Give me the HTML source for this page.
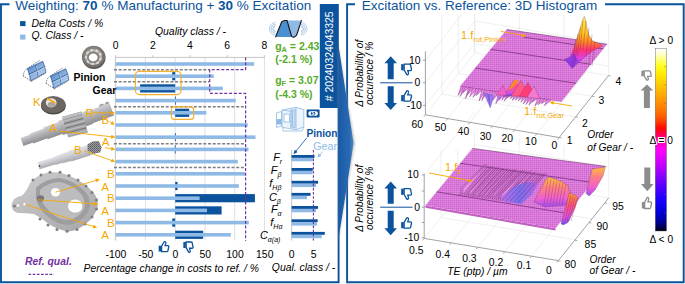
<!DOCTYPE html>
<html><head><meta charset="utf-8"><style>
html,body{margin:0;padding:0;background:#fff;}
body{width:685px;height:284px;overflow:hidden;}
svg{display:block;}
text{font-family:"Liberation Sans",sans-serif;}
</style></head><body>
<svg width="685" height="284" viewBox="0 0 685 284">
<path d="M9.5,4.3 H1 V282.2 H338.6 V106" fill="none" stroke="#0b539d" stroke-width="1.9"/>
<rect x="319.8" y="4.0" width="19" height="104.0" fill="#0b539d" />
<text transform="translate(333.4,101.3) rotate(-90)" font-size="10.45" fill="#fff">#&#160;20240324043325</text>
<path d="M355,4.3 H347.1 V282.2 H683.7 V4.3 H605" fill="none" stroke="#0b539d" stroke-width="1.9"/>
<defs><linearGradient id="chev" x1="0" y1="0" x2="1" y2="0"><stop offset="0" stop-color="#1a5aa6"/><stop offset="0.75" stop-color="#2a6ab2"/><stop offset="1" stop-color="#5a8cc6"/></linearGradient></defs>
<defs><filter id="shb" x="-0.5" y="-0.1" width="2" height="1.2"><feGaussianBlur stdDeviation="0.9"/></filter></defs>
<path d="M338.2,43.5 Q346.5,95 355,143 Q346.5,192 338.2,241 Z" fill="#9a9a9a" opacity="0.55" filter="url(#shb)"/>
<path d="M338.2,43.5 Q346,95 353.6,143 Q346,192 338.2,241 Z" fill="url(#chev)"/>
<text x="15.3" y="10.2" font-size="13.5" fill="#0b539d">Weighting: <tspan font-weight="bold">70</tspan> % Manufacturing + <tspan font-weight="bold">30</tspan> % Excitation</text>
<text x="361.7" y="10.2" font-size="13.5" fill="#0b539d">Excitation vs. Reference: 3D Histogram</text>
<rect x="20.1" y="21.1" width="5.4" height="5" fill="#0b539d" />
<rect x="20.1" y="34.6" width="5.4" height="5" fill="#8ebae5" />
<text x="31.6" y="27.4" font-size="10.4" fill="#000" text-anchor="start" font-weight="normal" font-style="italic" >Delta Costs / %</text>
<text x="31.6" y="39.2" font-size="10.4" fill="#000" text-anchor="start" font-weight="normal" font-style="italic" >Q. Class / -</text>
<line x1="145.45" y1="57" x2="145.45" y2="240.6" stroke="#dcdcdc" stroke-width="0.9" />
<line x1="175.2" y1="57" x2="175.2" y2="240.6" stroke="#dcdcdc" stroke-width="0.9" />
<line x1="204.95" y1="57" x2="204.95" y2="240.6" stroke="#dcdcdc" stroke-width="0.9" />
<line x1="234.7" y1="57" x2="234.7" y2="240.6" stroke="#dcdcdc" stroke-width="0.9" />
<line x1="264.45" y1="57" x2="264.45" y2="240.6" stroke="#dcdcdc" stroke-width="0.9" />
<line x1="115.4" y1="57.4" x2="265" y2="57.4" stroke="#c0c0c0" stroke-width="0.9" />
<line x1="115.4" y1="57.4" x2="115.4" y2="240.6" stroke="#c0c0c0" stroke-width="0.9" />
<line x1="115.6" y1="55.2" x2="115.6" y2="57.4" stroke="#c0c0c0" stroke-width="0.9" />
<text x="115.6" y="49.2" font-size="10.4" fill="#000" text-anchor="middle" font-weight="normal" font-style="normal" >0</text>
<line x1="152.8" y1="55.2" x2="152.8" y2="57.4" stroke="#c0c0c0" stroke-width="0.9" />
<text x="152.8" y="49.2" font-size="10.4" fill="#000" text-anchor="middle" font-weight="normal" font-style="normal" >2</text>
<line x1="190.0" y1="55.2" x2="190.0" y2="57.4" stroke="#c0c0c0" stroke-width="0.9" />
<text x="190.0" y="49.2" font-size="10.4" fill="#000" text-anchor="middle" font-weight="normal" font-style="normal" >4</text>
<line x1="227.2" y1="55.2" x2="227.2" y2="57.4" stroke="#c0c0c0" stroke-width="0.9" />
<text x="227.2" y="49.2" font-size="10.4" fill="#000" text-anchor="middle" font-weight="normal" font-style="normal" >6</text>
<line x1="264.4" y1="55.2" x2="264.4" y2="57.4" stroke="#c0c0c0" stroke-width="0.9" />
<text x="264.4" y="49.2" font-size="10.4" fill="#000" text-anchor="middle" font-weight="normal" font-style="normal" >8</text>
<text x="155" y="35.3" font-size="10.4" fill="#000" text-anchor="start" font-weight="normal" font-style="italic" >Quality class / -</text>
<text x="115.99999999999999" y="257.6" font-size="10.4" fill="#000" text-anchor="middle" font-weight="normal" font-style="normal" >-100</text>
<text x="145.75" y="257.6" font-size="10.4" fill="#000" text-anchor="middle" font-weight="normal" font-style="normal" >-50</text>
<text x="175.5" y="257.6" font-size="10.4" fill="#000" text-anchor="middle" font-weight="normal" font-style="normal" >0</text>
<text x="205.25" y="257.6" font-size="10.4" fill="#000" text-anchor="middle" font-weight="normal" font-style="normal" >50</text>
<text x="235.0" y="257.6" font-size="10.4" fill="#000" text-anchor="middle" font-weight="normal" font-style="normal" >100</text>
<text x="264.75" y="257.6" font-size="10.4" fill="#000" text-anchor="middle" font-weight="normal" font-style="normal" >150</text>
<text x="83.5" y="271.6" font-size="10.4" fill="#000" text-anchor="start" font-weight="normal" font-style="italic" >Percentage change in costs to ref. / %</text>
<line x1="114" y1="69.7" x2="209.7" y2="69.7" stroke="#7f7f7f" stroke-width="1.4" stroke-dasharray="3,1.7"/>
<line x1="114" y1="81.7" x2="209.7" y2="81.7" stroke="#7f7f7f" stroke-width="1.4" stroke-dasharray="3,1.7"/>
<line x1="114" y1="106.8" x2="245.6" y2="106.8" stroke="#7f7f7f" stroke-width="1.4" stroke-dasharray="3,1.7"/>
<line x1="114" y1="143.8" x2="245.6" y2="143.8" stroke="#7f7f7f" stroke-width="1.4" stroke-dasharray="3,1.7"/>
<line x1="114" y1="167.5" x2="245.6" y2="167.5" stroke="#7f7f7f" stroke-width="1.4" stroke-dasharray="3,1.7"/>
<rect x="172.22" y="72.1" width="2.97" height="8.2" fill="#0b539d" />
<rect x="140.09" y="84.3" width="35.1" height="8.2" fill="#0b539d" />
<rect x="175.2" y="96.5" width="0.8" height="8.2" fill="#0b539d" />
<rect x="175.2" y="108.7" width="13.98" height="8.2" fill="#0b539d" />
<rect x="174.96" y="133.1" width="0.8" height="8.2" fill="#0b539d" />
<rect x="174.84" y="145.3" width="0.8" height="8.2" fill="#0b539d" />
<rect x="175.2" y="181.9" width="2.38" height="8.2" fill="#0b539d" />
<rect x="175.2" y="194.1" width="79.73" height="8.2" fill="#0b539d" />
<rect x="175.2" y="206.3" width="46.41" height="8.2" fill="#0b539d" />
<rect x="172.22" y="218.5" width="2.97" height="8.2" fill="#0b539d" />
<rect x="175.2" y="230.7" width="27.97" height="8.2" fill="#0b539d" />
<rect x="115.6" y="62.2" width="138.4" height="3.6" fill="#8ebae5" />
<rect x="115.6" y="74.4" width="98.1" height="3.6" fill="#8ebae5" />
<rect x="115.6" y="86.6" width="107.2" height="3.6" fill="#8ebae5" />
<rect x="115.6" y="98.8" width="120.2" height="3.6" fill="#8ebae5" />
<rect x="115.6" y="111.0" width="90.7" height="3.6" fill="#8ebae5" />
<rect x="115.6" y="123.2" width="132.1" height="3.6" fill="#8ebae5" />
<rect x="115.6" y="135.4" width="139.9" height="3.6" fill="#8ebae5" />
<rect x="115.6" y="147.6" width="132.9" height="3.6" fill="#8ebae5" />
<rect x="115.6" y="159.8" width="122.2" height="3.6" fill="#8ebae5" />
<rect x="115.6" y="172.0" width="129.4" height="3.6" fill="#8ebae5" />
<rect x="115.6" y="184.2" width="123.3" height="3.6" fill="#8ebae5" />
<rect x="115.6" y="196.4" width="84.0" height="3.6" fill="#8ebae5" />
<rect x="115.6" y="208.6" width="91.4" height="3.6" fill="#8ebae5" />
<rect x="115.6" y="220.8" width="133.2" height="3.6" fill="#8ebae5" />
<rect x="115.6" y="233.0" width="115.2" height="3.6" fill="#8ebae5" />
<path d="M245.6,57.4 V69.7 H209.7 V93.3 H245.6 V240.7" fill="none" stroke="#7030a0" stroke-width="1.2" stroke-dasharray="3,1.8"/>
<rect x="135.4" y="71.3" width="45.6" height="23.3" rx="4" fill="none" stroke="#f5b02e" stroke-width="1.15"/>
<rect x="171.3" y="106.8" width="22.4" height="12.6" rx="3" fill="none" stroke="#f5b02e" stroke-width="1.15"/>
<line x1="291.6" y1="150" x2="291.6" y2="240.6" stroke="#c0c0c0" stroke-width="0.9" />
<rect x="291.6" y="155" width="22.9" height="2.9" fill="#0b539d" />
<rect x="291.6" y="157.9" width="21.2" height="3.4" fill="#8ebae5" />
<rect x="291.6" y="168" width="21.2" height="2.9" fill="#0b539d" />
<rect x="291.6" y="170.9" width="20.8" height="3.4" fill="#8ebae5" />
<rect x="291.6" y="180.8" width="26.4" height="2.9" fill="#0b539d" />
<rect x="291.6" y="183.70000000000002" width="24.4" height="3.4" fill="#8ebae5" />
<rect x="291.6" y="192.9" width="19.0" height="2.9" fill="#0b539d" />
<rect x="291.6" y="195.8" width="15.4" height="3.4" fill="#8ebae5" />
<rect x="291.6" y="206" width="26.4" height="2.9" fill="#0b539d" />
<rect x="291.6" y="208.9" width="24.4" height="3.4" fill="#8ebae5" />
<rect x="291.6" y="219.3" width="26.1" height="2.9" fill="#0b539d" />
<rect x="291.6" y="222.20000000000002" width="25.4" height="3.4" fill="#8ebae5" />
<rect x="291.6" y="231.9" width="33.2" height="2.9" fill="#0b539d" />
<rect x="291.6" y="234.8" width="30.1" height="3.4" fill="#8ebae5" />
<line x1="313.4" y1="150" x2="313.4" y2="240.5" stroke="#7030a0" stroke-width="1.1" stroke-dasharray="2.6,1.6"/>
<text x="291.6" y="257.6" font-size="10.4" fill="#000" text-anchor="middle" font-weight="normal" font-style="normal" >0</text>
<text x="313.6" y="257.6" font-size="10.4" fill="#000" text-anchor="middle" font-weight="normal" font-style="normal" >5</text>
<text x="271.8" y="271.2" font-size="10.4" fill="#000" text-anchor="start" font-weight="normal" font-style="italic" >Qual. class / -</text>
<text x="282.2" y="161.2" font-size="10.9" font-style="italic" text-anchor="end">F<tspan font-size="7.0" dy="3.1">r</tspan></text>
<text x="281.4" y="174.0" font-size="10.9" font-style="italic" text-anchor="end">F<tspan font-size="7.0" dy="3.1">β</tspan></text>
<text x="281.4" y="186.8" font-size="10.9" font-style="italic" text-anchor="end">f<tspan font-size="7.0" dy="3.1">Hβ</tspan></text>
<text x="280.8" y="200.8" font-size="10.9" font-style="italic" text-anchor="end">C<tspan font-size="7.0" dy="3.1">β</tspan></text>
<text x="281.6" y="213.2" font-size="10.9" font-style="italic" text-anchor="end">F<tspan font-size="7.0" dy="3.1">α</tspan></text>
<text x="282.4" y="226.2" font-size="10.9" font-style="italic" text-anchor="end">f<tspan font-size="7.0" dy="3.1">Hα</tspan></text>
<text x="280.4" y="238.6" font-size="10.9" font-style="italic" text-anchor="end">C<tspan font-size="7.0" dy="3.1">α(a)</tspan></text>
<text x="306.4" y="136.6" font-size="10.2" fill="#0b539d" text-anchor="start" font-weight="bold" font-style="normal" >Pinion</text>
<text x="313.3" y="150.4" font-size="10.7" fill="#8ebae5" text-anchor="start" font-weight="normal" font-style="normal" >Gear</text>
<defs><marker id="ahb" viewBox="0 0 10 10" refX="8" refY="5" markerWidth="5" markerHeight="5" orient="auto"><path d="M0,0 L10,5 L0,10 z" fill="#0b539d"/></marker><marker id="ahl" viewBox="0 0 10 10" refX="8" refY="5" markerWidth="5" markerHeight="5" orient="auto"><path d="M0,0 L10,5 L0,10 z" fill="#8ebae5"/></marker><marker id="aho" viewBox="0 0 10 10" refX="8" refY="5" markerWidth="4.5" markerHeight="4.5" orient="auto"><path d="M0,0 L10,5 L0,10 z" fill="#f6a800"/></marker></defs>
<line x1="306.8" y1="137.8" x2="294.2" y2="153.4" stroke="#0b539d" stroke-width="0.8" marker-end="url(#ahb)"/>
<line x1="323" y1="151.4" x2="318" y2="156.8" stroke="#8ebae5" stroke-width="0.8" marker-end="url(#ahl)"/>
<text x="275.2" y="50.2" font-size="10.5" font-weight="bold" fill="#57ab27">g<tspan font-size="7.4" dy="2">A</tspan><tspan dy="-2"> = 2.43</tspan></text>
<text x="275.2" y="62.8" font-size="10.5" fill="#57ab27" text-anchor="start" font-weight="bold" font-style="normal" >(-2.1 %)</text>
<text x="275.2" y="84.2" font-size="10.5" font-weight="bold" fill="#57ab27">g<tspan font-size="7.4" dy="2">F</tspan><tspan dy="-2"> = 3.07</tspan></text>
<text x="275.2" y="97.6" font-size="10.5" fill="#57ab27" text-anchor="start" font-weight="bold" font-style="normal" >(-4.3 %)</text>
<g>
<path d="M275.5,26.2 A2.6,2.6 0 0 0 275.5,31.400000000000002" fill="none" stroke="#7fb0e0" stroke-width="0.9" opacity="1"/>
<path d="M300.8,26.2 A2.6,2.6 0 0 1 300.8,31.400000000000002" fill="none" stroke="#7fb0e0" stroke-width="0.9" opacity="1"/>
<path d="M275.5,24.4 A4.4,4.4 0 0 0 275.5,33.2" fill="none" stroke="#7fb0e0" stroke-width="0.9" opacity="0.85"/>
<path d="M300.8,24.4 A4.4,4.4 0 0 1 300.8,33.2" fill="none" stroke="#7fb0e0" stroke-width="0.9" opacity="0.85"/>
<path d="M275.5,22.6 A6.2,6.2 0 0 0 275.5,35.0" fill="none" stroke="#7fb0e0" stroke-width="0.9" opacity="0.7"/>
<path d="M300.8,22.6 A6.2,6.2 0 0 1 300.8,35.0" fill="none" stroke="#7fb0e0" stroke-width="0.9" opacity="0.7"/>
<path d="M276,37 L281.5,22.5 Q283,20.5 285,21 L289,21 L293,37 Z" fill="#4a8fd0"/>
<path d="M286.5,20.5 L301,20.5 L296,36 Q295,37.3 293.5,37.3 L291.5,37.3 Z" fill="#8ebae5"/>
<path d="M275.5,37.3 L281.5,22.2 Q283,20.3 285.5,20.5 L287,20.5 L291.5,36 Q292.5,37.5 294.5,37 Q296.2,36.5 297,34 L301.5,20.2" fill="none" stroke="#111" stroke-width="1.1"/>
</g>
<g fill="none" stroke="#8ebae5" stroke-width="0.8"><path d="M282,110 L296,107.3 L303.8,109.5 L303.8,127 L296,129.8 L282,127.3 Z" fill="#eef4fb"/><path d="M291,108.2 L291,128.4 M296,107.3 L296,129.8 M282,110 L291,111.2 L296,110.3"/><path d="M291,111.2 L291,128.4" /><rect x="284" y="114" width="5.5" height="8" fill="#ffffff"/><path d="M292.5,110 L295,109.6 L295,128 L292.5,127.6 Z" fill="#cfe0f3"/><path d="M276.5,113 L281.5,111.5 L281.5,126 L276.5,127.5 Z"/><rect x="277" y="119.5" width="4" height="4.5" fill="#8ebae5"/><path d="M283,127.5 L283,131 L302,131 L303.8,127"/></g>
<rect x="306.6" y="109.6" width="13" height="7.8" rx="1" fill="#0b539d"/>
<rect x="308.4" y="111.2" width="9.4" height="4.6" rx="1.8" fill="#fff"/>
<ellipse cx="313.1" cy="113.5" rx="2.3" ry="2.1" fill="#0b539d"/>
<text x="313.1" y="115.4" font-size="4.5" fill="#fff" text-anchor="middle" font-weight="bold">$</text>
<defs><radialGradient id="brg" cx="0.45" cy="0.4" r="0.65"><stop offset="0" stop-color="#a29d98"/><stop offset="1" stop-color="#6a6560"/></radialGradient></defs>
<ellipse cx="93.9" cy="57.9" rx="11.6" ry="11" fill="#55504c"/>
<ellipse cx="93.6" cy="56.8" rx="11.6" ry="11" fill="url(#brg)"/>
<ellipse cx="93.5" cy="57" rx="8.6" ry="8.1" fill="#b4afaa"/>
<circle cx="100.38" cy="59.01" r="1.45" fill="#dedad6"/>
<circle cx="97.40" cy="62.72" r="1.45" fill="#dedad6"/>
<circle cx="92.60" cy="63.75" r="1.45" fill="#dedad6"/>
<circle cx="88.22" cy="61.62" r="1.45" fill="#dedad6"/>
<circle cx="86.31" cy="57.33" r="1.45" fill="#dedad6"/>
<circle cx="87.76" cy="52.89" r="1.45" fill="#dedad6"/>
<circle cx="91.90" cy="50.37" r="1.45" fill="#dedad6"/>
<circle cx="96.79" cy="50.95" r="1.45" fill="#dedad6"/>
<circle cx="100.14" cy="54.36" r="1.45" fill="#dedad6"/>
<ellipse cx="93.3" cy="57.3" rx="6.2" ry="5.8" fill="#85807b"/>
<ellipse cx="93.2" cy="57.5" rx="4.4" ry="3.9" fill="#fff"/>
<defs><linearGradient id="flk" x1="0" y1="0" x2="1" y2="1"><stop offset="0" stop-color="#3a75bd"/><stop offset="1" stop-color="#e0ebf8"/></linearGradient></defs>
<g transform="translate(0,0)"><path d="M23.2,76 Q23.5,70.5 27.9,68.1 L40,60.2 M31.6,81.3 L45.3,73.4 M23.2,76 L31.6,81.3" fill="none" stroke="#222" stroke-width="0.6" stroke-dasharray="1.3,0.9"/><path d="M27.4,68.7 L42.7,61.3 Q45,66 45.9,72.4 L30.6,80.8 Q29.8,74 27.4,68.7 Z" fill="url(#flk)"/><path d="M27.4,68.7 L42.7,61.3 Q45,66 45.9,72.4 L30.6,80.8 Q29.8,74 27.4,68.7 Z" fill="none" stroke="#1a4f9a" stroke-width="0.7"/><path d="M35.2,64.9 Q37.5,70.5 38.3,76.6 M28.6,74.6 L44.6,66.6" stroke="#1a4f9a" stroke-width="0.8" fill="none"/><path d="M35.8,65.8 Q38,70.5 38.9,76 M29.2,75.4 L45,67.4" stroke="#e8f0fa" stroke-width="0.5" fill="none"/></g>
<g transform="translate(23,7.5)"><path d="M23.2,76 Q23.5,70.5 27.9,68.1 L40,60.2 M31.6,81.3 L45.3,73.4 M23.2,76 L31.6,81.3" fill="none" stroke="#222" stroke-width="0.6" stroke-dasharray="1.3,0.9"/><path d="M27.4,68.7 L42.7,61.3 Q45,66 45.9,72.4 L30.6,80.8 Q29.8,74 27.4,68.7 Z" fill="url(#flk)"/><path d="M27.4,68.7 L42.7,61.3 Q45,66 45.9,72.4 L30.6,80.8 Q29.8,74 27.4,68.7 Z" fill="none" stroke="#1a4f9a" stroke-width="0.7"/><path d="M35.2,64.9 Q37.5,70.5 38.3,76.6 M28.6,74.6 L44.6,66.6" stroke="#1a4f9a" stroke-width="0.8" fill="none"/><path d="M35.8,65.8 Q38,70.5 38.9,76 M29.2,75.4 L45,67.4" stroke="#e8f0fa" stroke-width="0.5" fill="none"/></g>
<ellipse cx="53.4" cy="105.8" rx="12.4" ry="8.8" fill="#4f4a46"/>
<ellipse cx="53.2" cy="104.5" rx="12.2" ry="8.6" fill="#6b6662"/>
<ellipse cx="51.2" cy="102.8" rx="5.4" ry="4.6" fill="#e9e7e5"/>
<ellipse cx="51.6" cy="104.3" rx="4" ry="2.6" fill="#a9a5a1"/>
<path d="M47.5,98.8 L53.5,101.8" stroke="#f6a800" stroke-width="1.6" stroke-linecap="round"/>
<path d="M52.2,100.2 L56,102.8 L52.6,103.6 Z" fill="#f6a800"/>
<defs><linearGradient id="sh1" x1="0" y1="0" x2="0" y2="1"><stop offset="0" stop-color="#cfcfd3"/><stop offset="0.45" stop-color="#b0b0b4"/><stop offset="1" stop-color="#8e8e92"/></linearGradient><linearGradient id="sh2" x1="0" y1="0" x2="0" y2="1"><stop offset="0" stop-color="#e2e3e8"/><stop offset="0.5" stop-color="#c9cad0"/><stop offset="1" stop-color="#a9aab0"/></linearGradient><pattern id="chk" width="2" height="2" patternUnits="userSpaceOnUse"><rect width="2" height="2" fill="#9a9a9e"/><rect width="1" height="1" fill="#5e5e62"/><rect x="1" y="1" width="1" height="1" fill="#6e6e72"/></pattern></defs>
<g transform="translate(22,142) rotate(-20)"><rect x="0" y="-4.2" width="11" height="8.4" fill="url(#sh1)"/><rect x="10" y="-5.2" width="16" height="10.4" fill="url(#sh1)"/><rect x="25" y="-6.2" width="17" height="12.4" fill="url(#sh1)"/><rect x="41" y="-7.4" width="8" height="14.8" fill="url(#sh1)"/><rect x="64" y="-7.2" width="9" height="14.4" fill="url(#sh1)"/><rect x="72" y="-6.6" width="23.5" height="13.2" fill="url(#sh1)"/><path d="M84,-6.6 l2,-2 l3,0 l1,2 M90,-6.6 l2,-2 l2.5,0 l1,2" fill="#a0a0a4"/></g>
<polygon points="62.2,116.8 81.2,111.4 88,132.6 68.2,137.4" fill="#a4a4a8" />
<line x1="62.87" y1="119.09" x2="81.96" y2="113.76" stroke="#6c6c70" stroke-width="0.9" />
<line x1="63.53" y1="121.38" x2="82.71" y2="116.11" stroke="#c4c4c8" stroke-width="0.9" />
<line x1="64.2" y1="123.67" x2="83.47" y2="118.47" stroke="#6c6c70" stroke-width="0.9" />
<line x1="64.87" y1="125.96" x2="84.22" y2="120.82" stroke="#c4c4c8" stroke-width="0.9" />
<line x1="65.53" y1="128.24" x2="84.98" y2="123.18" stroke="#6c6c70" stroke-width="0.9" />
<line x1="66.2" y1="130.53" x2="85.73" y2="125.53" stroke="#c4c4c8" stroke-width="0.9" />
<line x1="66.87" y1="132.82" x2="86.49" y2="127.89" stroke="#6c6c70" stroke-width="0.9" />
<line x1="67.53" y1="135.11" x2="87.24" y2="130.24" stroke="#c4c4c8" stroke-width="0.9" />
<polygon points="62.2,116.8 81.2,111.4 82.2,114.3 63.2,119.6" fill="#bdbdc1" />
<g transform="translate(39,165.6) rotate(-17)"><rect x="-0.5" y="-3.6" width="17" height="7.2" fill="url(#sh2)"/><rect x="16" y="-4.2" width="8" height="8.4" fill="url(#sh2)"/><rect x="23.5" y="-4.8" width="9" height="9.6" fill="url(#sh2)"/><rect x="32" y="-5.4" width="20" height="10.8" fill="url(#sh2)"/><rect x="51" y="-4.8" width="8" height="9.6" fill="url(#sh2)"/><circle cx="0.4" cy="0.5" r="0.9" fill="#444"/></g>
<polygon points="87.4,144.4 92.3,141.5 98.8,140.9 101.6,147.4 100.2,152.6 93.6,153.4 87.6,150.6" fill="url(#chk)" />
<defs><linearGradient id="hs" x1="0" y1="0" x2="1" y2="1"><stop offset="0" stop-color="#cdcdcf"/><stop offset="1" stop-color="#a6a6a9"/></linearGradient></defs>
<path d="M30,183 Q36,175 48,172.5 Q60,171 70,176 Q84,182 93,192 Q99,199 97.5,207 Q95,216 88,222 Q78,231 68,231.5 Q57,230 46,222 Q40,217 34,214 Q26,213 18,213 Q11,211 11.5,204.5 Q13,197 22,195.5 Q27,191 30,183 Z" fill="url(#hs)"/>
<path d="M36,188 Q46,178 60,178 Q76,181 86,193 Q92,201 89,210 Q84,221 70,225 Q57,225 47,216 Q38,208 36,198 Z" fill="#9e9ea1"/>
<path d="M40,190 Q48,182 60,182 Q74,185 82,195 Q86,202 84,209 Q79,218 68,220 Q57,219 50,212 Q43,205 40,197 Z" fill="#bcbcbf"/>
<circle cx="33" cy="180" r="1.5" fill="#7f7f82"/>
<circle cx="41" cy="175" r="1.5" fill="#7f7f82"/>
<circle cx="50" cy="172.3" r="1.5" fill="#7f7f82"/>
<circle cx="60" cy="172.2" r="1.5" fill="#7f7f82"/>
<circle cx="69" cy="175.5" r="1.5" fill="#7f7f82"/>
<circle cx="78" cy="180" r="1.5" fill="#7f7f82"/>
<circle cx="86" cy="186" r="1.5" fill="#7f7f82"/>
<circle cx="92" cy="192.5" r="1.5" fill="#7f7f82"/>
<circle cx="96.5" cy="200" r="1.5" fill="#7f7f82"/>
<circle cx="96.5" cy="209" r="1.5" fill="#7f7f82"/>
<circle cx="92" cy="217" r="1.5" fill="#7f7f82"/>
<circle cx="85" cy="224" r="1.5" fill="#7f7f82"/>
<circle cx="77" cy="229.5" r="1.5" fill="#7f7f82"/>
<circle cx="67" cy="231.3" r="1.5" fill="#7f7f82"/>
<circle cx="57" cy="229.5" r="1.5" fill="#7f7f82"/>
<circle cx="48" cy="225" r="1.5" fill="#7f7f82"/>
<circle cx="40" cy="219" r="1.5" fill="#7f7f82"/>
<circle cx="14.5" cy="206" r="1.5" fill="#7f7f82"/>
<ellipse cx="55.5" cy="192.3" rx="4.6" ry="4.2" fill="#fff"/>
<ellipse cx="75.2" cy="206" rx="7.2" ry="6.6" fill="#fff"/>
<ellipse cx="40.5" cy="198.5" rx="3.6" ry="3.2" fill="#77777a"/>
<circle cx="18" cy="205.5" r="1.2" fill="#fff"/><circle cx="24.5" cy="204.2" r="1.2" fill="#fff"/>
<text x="32.9" y="105.6" font-size="11.6" fill="#f6a800" text-anchor="start" font-weight="normal" font-style="normal" >K</text>
<text x="85.6" y="117.4" font-size="11.6" fill="#f6a800" text-anchor="start" font-weight="normal" font-style="normal" >R</text>
<text x="101.6" y="123.8" font-size="11.6" fill="#f6a800" text-anchor="start" font-weight="normal" font-style="normal" >B</text>
<text x="49.3" y="132.4" font-size="11.6" fill="#f6a800" text-anchor="start" font-weight="normal" font-style="normal" >A</text>
<text x="101.7" y="145.6" font-size="11.6" fill="#f6a800" text-anchor="start" font-weight="normal" font-style="normal" >A</text>
<text x="74" y="153.7" font-size="11.6" fill="#f6a800" text-anchor="start" font-weight="normal" font-style="normal" >B</text>
<text x="106.9" y="178.0" font-size="11.6" fill="#f6a800" text-anchor="start" font-weight="normal" font-style="normal" >B</text>
<text x="101.3" y="190.5" font-size="11.6" fill="#f6a800" text-anchor="start" font-weight="normal" font-style="normal" >A</text>
<text x="106.9" y="202.4" font-size="11.6" fill="#f6a800" text-anchor="start" font-weight="normal" font-style="normal" >B</text>
<text x="101.3" y="214.9" font-size="11.6" fill="#f6a800" text-anchor="start" font-weight="normal" font-style="normal" >A</text>
<text x="106.9" y="226.8" font-size="11.6" fill="#f6a800" text-anchor="start" font-weight="normal" font-style="normal" >B</text>
<text x="101.3" y="239.3" font-size="11.6" fill="#f6a800" text-anchor="start" font-weight="normal" font-style="normal" >A</text>
<line x1="93" y1="112.8" x2="114.2" y2="112.8" stroke="#f6a800" stroke-width="0.9" marker-end="url(#aho)"/>
<line x1="109.5" y1="121.2" x2="113.8" y2="124.6" stroke="#f6a800" stroke-width="0.9" marker-end="url(#aho)"/>
<line x1="59.8" y1="131.2" x2="114.4" y2="137" stroke="#f6a800" stroke-width="0.9" marker-end="url(#aho)"/>
<line x1="105" y1="147.6" x2="114.4" y2="149.3" stroke="#f6a800" stroke-width="0.9" marker-end="url(#aho)"/>
<line x1="84.6" y1="150.9" x2="114.4" y2="161.5" stroke="#f6a800" stroke-width="0.9" marker-end="url(#aho)"/>
<line x1="55.5" y1="192.2" x2="98.9" y2="179.6" stroke="#f6a800" stroke-width="0.9" marker-end="url(#aho)"/>
<line x1="38" y1="199.8" x2="97.4" y2="204" stroke="#f6a800" stroke-width="0.9" marker-end="url(#aho)"/>
<line x1="25.5" y1="204.5" x2="96.2" y2="227.4" stroke="#f6a800" stroke-width="0.9" marker-end="url(#aho)"/>
<text x="73.6" y="80.7" font-size="10.4" fill="#000" text-anchor="start" font-weight="bold" font-style="normal" >Pinion</text>
<text x="92.6" y="93.8" font-size="10.4" fill="#000" text-anchor="start" font-weight="bold" font-style="normal" >Gear</text>
<text x="25" y="264.6" font-size="10.4" fill="#7030a0" text-anchor="start" font-weight="bold" font-style="italic" >Ref. qual.</text>
<line x1="28.5" y1="274.3" x2="54" y2="274.3" stroke="#7030a0" stroke-width="1.2" stroke-dasharray="2.6,1.6"/>
<defs><pattern id="hatch" width="2" height="2" patternUnits="userSpaceOnUse"><rect width="2" height="2" fill="#dc7adc"/><rect width="1" height="1" fill="#c466c4"/><rect x="1" y="1" width="1" height="1" fill="#e684e6"/></pattern></defs>
<defs><linearGradient id="pk1" x1="0" y1="0" x2="0" y2="1"><stop offset="0" stop-color="#fff040"/><stop offset="0.3" stop-color="#ffcc20"/><stop offset="0.48" stop-color="#ff8a20"/><stop offset="0.64" stop-color="#ff3470"/><stop offset="0.8" stop-color="#e040e0"/><stop offset="1" stop-color="#8040e0"/></linearGradient><linearGradient id="pk2" x1="0" y1="0" x2="0" y2="1"><stop offset="0" stop-color="#ffc040"/><stop offset="0.35" stop-color="#ff8080"/><stop offset="0.7" stop-color="#f060d0"/><stop offset="1" stop-color="#a050f0"/></linearGradient><linearGradient id="pk3" x1="0" y1="0" x2="0" y2="1"><stop offset="0" stop-color="#ff9a30"/><stop offset="0.4" stop-color="#ff5080"/><stop offset="0.75" stop-color="#e050e0"/><stop offset="1" stop-color="#6050f0"/></linearGradient><linearGradient id="blu" x1="0" y1="0" x2="1" y2="0"><stop offset="0" stop-color="#c070f0"/><stop offset="0.5" stop-color="#7070f0"/><stop offset="1" stop-color="#b060e0"/></linearGradient><linearGradient id="cbar" x1="0" y1="0" x2="0" y2="1"><stop offset="0" stop-color="#ffffff"/><stop offset="0.03" stop-color="#ffffd0"/><stop offset="0.064" stop-color="#ffff70"/><stop offset="0.096" stop-color="#ffff20"/><stop offset="0.146" stop-color="#ffe800"/><stop offset="0.2" stop-color="#ffc800"/><stop offset="0.255" stop-color="#ffa800"/><stop offset="0.31" stop-color="#ff8800"/><stop offset="0.365" stop-color="#ff6400"/><stop offset="0.403" stop-color="#ff3c00"/><stop offset="0.436" stop-color="#ff0a00"/><stop offset="0.47" stop-color="#ff0050"/><stop offset="0.5" stop-color="#ff00a0"/><stop offset="0.556" stop-color="#ff00ff"/><stop offset="0.622" stop-color="#d000ff"/><stop offset="0.693" stop-color="#9000ff"/><stop offset="0.764" stop-color="#5000ff"/><stop offset="0.83" stop-color="#1a00ff"/><stop offset="0.896" stop-color="#0000d8"/><stop offset="0.95" stop-color="#000098"/><stop offset="0.985" stop-color="#000040"/><stop offset="1" stop-color="#000010"/></linearGradient></defs>
<line x1="441.83" y1="94.17" x2="441.83" y2="14.5" stroke="#e4e4e4" stroke-width="0.6" />
<line x1="458.27" y1="73.53" x2="458.27" y2="14.5" stroke="#e4e4e4" stroke-width="0.6" />
<line x1="474.7" y1="52.9" x2="474.7" y2="14.5" stroke="#e4e4e4" stroke-width="0.6" />
<line x1="425.4" y1="105.4" x2="474.7" y2="43.5" stroke="#e4e4e4" stroke-width="0.6" />
<line x1="425.4" y1="82.8" x2="474.7" y2="20.9" stroke="#e4e4e4" stroke-width="0.6" />
<line x1="425.4" y1="60.3" x2="461.88" y2="14.5" stroke="#e4e4e4" stroke-width="0.6" />
<line x1="474.7" y1="52.9" x2="474.7" y2="14.5" stroke="#e4e4e4" stroke-width="0.6" />
<line x1="519.3" y1="60.47" x2="519.3" y2="14.5" stroke="#e4e4e4" stroke-width="0.6" />
<line x1="563.9" y1="68.03" x2="563.9" y2="14.5" stroke="#e4e4e4" stroke-width="0.6" />
<line x1="608.5" y1="75.6" x2="608.5" y2="24" stroke="#e4e4e4" stroke-width="0.6" />
<line x1="474.7" y1="43.5" x2="608.5" y2="66.2" stroke="#e4e4e4" stroke-width="0.6" />
<line x1="474.7" y1="20.9" x2="608.5" y2="43.6" stroke="#e4e4e4" stroke-width="0.6" />
<line x1="441.83" y1="94.17" x2="575.63" y2="116.87" stroke="#e4e4e4" stroke-width="0.6" />
<line x1="458.27" y1="73.53" x2="592.07" y2="96.23" stroke="#e4e4e4" stroke-width="0.6" />
<line x1="474.7" y1="52.9" x2="608.5" y2="75.6" stroke="#e4e4e4" stroke-width="0.6" />
<line x1="425.4" y1="114.8" x2="474.7" y2="52.9" stroke="#e4e4e4" stroke-width="0.6" />
<line x1="447.7" y1="118.58" x2="497.0" y2="56.68" stroke="#e4e4e4" stroke-width="0.6" />
<line x1="470.0" y1="122.37" x2="519.3" y2="60.47" stroke="#e4e4e4" stroke-width="0.6" />
<line x1="492.3" y1="126.15" x2="541.6" y2="64.25" stroke="#e4e4e4" stroke-width="0.6" />
<line x1="514.6" y1="129.93" x2="563.9" y2="68.03" stroke="#e4e4e4" stroke-width="0.6" />
<line x1="536.9" y1="133.72" x2="586.2" y2="71.82" stroke="#e4e4e4" stroke-width="0.6" />
<line x1="425.4" y1="51.3" x2="425.4" y2="114.8" stroke="#8a8a8a" stroke-width="0.8" />
<line x1="425.4" y1="114.8" x2="559.2" y2="137.5" stroke="#8a8a8a" stroke-width="0.8" />
<line x1="559.2" y1="137.5" x2="608.5" y2="75.6" stroke="#8a8a8a" stroke-width="0.8" />
<line x1="422.9" y1="60.3" x2="425.4" y2="60.3" stroke="#8a8a8a" stroke-width="0.8" />
<line x1="422.9" y1="82.8" x2="425.4" y2="82.8" stroke="#8a8a8a" stroke-width="0.8" />
<line x1="422.9" y1="105.4" x2="425.4" y2="105.4" stroke="#8a8a8a" stroke-width="0.8" />
<text x="420.5" y="63.9" font-size="10.4" fill="#000" text-anchor="end" font-weight="normal" font-style="normal" >10</text>
<text x="420.2" y="86.4" font-size="10.4" fill="#000" text-anchor="end" font-weight="normal" font-style="normal" >0</text>
<text x="421.8" y="109" font-size="10.4" fill="#000" text-anchor="end" font-weight="normal" font-style="normal" >-10</text>
<text x="417.3" y="128" font-size="10.4" fill="#000" text-anchor="middle" font-weight="normal" font-style="normal" >60</text>
<text x="440.6" y="131.2" font-size="10.4" fill="#000" text-anchor="middle" font-weight="normal" font-style="normal" >50</text>
<text x="463.4" y="135" font-size="10.4" fill="#000" text-anchor="middle" font-weight="normal" font-style="normal" >40</text>
<text x="485.5" y="139.6" font-size="10.4" fill="#000" text-anchor="middle" font-weight="normal" font-style="normal" >30</text>
<text x="507.2" y="142.4" font-size="10.4" fill="#000" text-anchor="middle" font-weight="normal" font-style="normal" >20</text>
<text x="530.9" y="144.8" font-size="10.4" fill="#000" text-anchor="middle" font-weight="normal" font-style="normal" >10</text>
<text x="554.4" y="148.5" font-size="10.4" fill="#000" text-anchor="middle" font-weight="normal" font-style="normal" >0</text>
<text x="569.6" y="143.6" font-size="10.4" fill="#000" text-anchor="middle" font-weight="normal" font-style="normal" >1</text>
<text x="584.8" y="126.6" font-size="10.4" fill="#000" text-anchor="middle" font-weight="normal" font-style="normal" >2</text>
<text x="601.4" y="104.2" font-size="10.4" fill="#000" text-anchor="middle" font-weight="normal" font-style="normal" >3</text>
<text x="618.3" y="85.1" font-size="10.4" fill="#000" text-anchor="middle" font-weight="normal" font-style="normal" >4</text>
<text x="587.3" y="138.3" font-size="10.2" fill="#000" text-anchor="start" font-weight="normal" font-style="italic" >Order</text>
<text x="587.3" y="150.7" font-size="10.2" fill="#000" text-anchor="start" font-weight="normal" font-style="italic" >of Gear / -</text>
<line x1="425.4" y1="114.8" x2="423.8" y2="116.8" stroke="#8a8a8a" stroke-width="0.7" />
<line x1="447.7" y1="118.58" x2="446.1" y2="120.58" stroke="#8a8a8a" stroke-width="0.7" />
<line x1="470.0" y1="122.37" x2="468.4" y2="124.37" stroke="#8a8a8a" stroke-width="0.7" />
<line x1="492.3" y1="126.15" x2="490.7" y2="128.15" stroke="#8a8a8a" stroke-width="0.7" />
<line x1="514.6" y1="129.93" x2="513.0" y2="131.93" stroke="#8a8a8a" stroke-width="0.7" />
<line x1="536.9" y1="133.72" x2="535.3" y2="135.72" stroke="#8a8a8a" stroke-width="0.7" />
<line x1="559.2" y1="137.5" x2="557.6" y2="139.5" stroke="#8a8a8a" stroke-width="0.7" />
<line x1="559.2" y1="137.5" x2="561.6" y2="137.9" stroke="#8a8a8a" stroke-width="0.7" />
<line x1="575.63" y1="116.87" x2="578.03" y2="117.27" stroke="#8a8a8a" stroke-width="0.7" />
<line x1="592.07" y1="96.23" x2="594.47" y2="96.63" stroke="#8a8a8a" stroke-width="0.7" />
<line x1="608.5" y1="75.6" x2="610.9" y2="76.0" stroke="#8a8a8a" stroke-width="0.7" />
<polygon points="506.8,29.5 607,44.3 561.3,102 459.8,86.6" fill="url(#hatch)" />
<line x1="523.1" y1="37.04" x2="603.34" y2="48.92" stroke="#6f2a6f" stroke-width="0.7" />
<line x1="490.49" y1="49.31" x2="591.14" y2="64.32" stroke="#6f2a6f" stroke-width="0.7" />
<line x1="475.07" y1="68.04" x2="576.15" y2="83.25" stroke="#6f2a6f" stroke-width="0.7" />
<line x1="506.8" y1="29.5" x2="607" y2="44.3" stroke="#6f2a6f" stroke-width="0.6" />
<polygon points="461.0,86.28 463.98,86.73 458.0,95.59" fill="#e886e8"  stroke="#7a2a7a" stroke-width="0.4"/>
<polygon points="463.23,86.62 466.47,87.11 460.23,96.35" fill="#e886e8"  stroke="#7a2a7a" stroke-width="0.4"/>
<polygon points="465.66,86.99 469.41,87.56 462.66,92.95" fill="#e886e8"  stroke="#7a2a7a" stroke-width="0.4"/>
<polygon points="468.48,87.42 471.0,87.8 465.48,98.78" fill="#e886e8"  stroke="#7a2a7a" stroke-width="0.4"/>
<polygon points="470.37,87.7 473.39,88.16 467.37,94.84" fill="#e886e8"  stroke="#7a2a7a" stroke-width="0.4"/>
<polygon points="472.63,88.05 477.13,88.73 469.63,96.84" fill="#e886e8"  stroke="#7a2a7a" stroke-width="0.4"/>
<polygon points="476.0,88.56 480.18,89.19 473.0,97.39" fill="#e886e8"  stroke="#7a2a7a" stroke-width="0.4"/>
<polygon points="479.13,89.03 482.91,89.61 476.13,95.59" fill="#e886e8"  stroke="#7a2a7a" stroke-width="0.4"/>
<polygon points="481.97,89.46 485.74,90.04 478.97,101.04" fill="#e886e8"  stroke="#7a2a7a" stroke-width="0.4"/>
<polygon points="484.79,89.89 488.34,90.43 481.79,100.58" fill="#e886e8"  stroke="#7a2a7a" stroke-width="0.4"/>
<polygon points="487.45,90.3 491.3,90.88 484.45,96.24" fill="#e886e8"  stroke="#7a2a7a" stroke-width="0.4"/>
<polygon points="490.34,90.73 494.35,91.34 487.34,100.37" fill="#e886e8"  stroke="#7a2a7a" stroke-width="0.4"/>
<polygon points="493.35,91.19 496.45,91.66 490.35,96.91" fill="#e886e8"  stroke="#7a2a7a" stroke-width="0.4"/>
<polygon points="495.67,91.54 499.91,92.18 492.67,100.35" fill="#e886e8"  stroke="#7a2a7a" stroke-width="0.4"/>
<polygon points="498.85,92.02 502.79,92.62 495.85,103.68" fill="#e886e8"  stroke="#7a2a7a" stroke-width="0.4"/>
<polygon points="501.8,92.47 505.73,93.07 498.8,100.41" fill="#e886e8"  stroke="#7a2a7a" stroke-width="0.4"/>
<polygon points="504.75,92.92 508.04,93.42 501.75,100.31" fill="#e886e8"  stroke="#7a2a7a" stroke-width="0.4"/>
<polygon points="507.21,93.29 510.6,93.81 504.21,101.3" fill="#e886e8"  stroke="#7a2a7a" stroke-width="0.4"/>
<polygon points="509.76,93.68 514.01,94.33 506.76,97.87" fill="#e886e8"  stroke="#7a2a7a" stroke-width="0.4"/>
<polygon points="512.95,94.16 515.72,94.58 509.95,98.9" fill="#e886e8"  stroke="#7a2a7a" stroke-width="0.4"/>
<polygon points="515.03,94.48 519.46,95.15 512.03,100.21" fill="#e886e8"  stroke="#7a2a7a" stroke-width="0.4"/>
<polygon points="518.35,94.98 522.11,95.55 515.35,100.1" fill="#e886e8"  stroke="#7a2a7a" stroke-width="0.4"/>
<polygon points="521.17,95.41 524.68,95.94 518.17,100.92" fill="#e886e8"  stroke="#7a2a7a" stroke-width="0.4"/>
<polygon points="523.8,95.81 527.0,96.3 520.8,102.22" fill="#e886e8"  stroke="#7a2a7a" stroke-width="0.4"/>
<polygon points="526.2,96.18 529.87,96.73 523.2,104.04" fill="#e886e8"  stroke="#7a2a7a" stroke-width="0.4"/>
<polygon points="528.96,96.59 532.82,97.18 525.96,104.57" fill="#e886e8"  stroke="#7a2a7a" stroke-width="0.4"/>
<polygon points="531.85,97.03 536.07,97.67 528.85,105.29" fill="#e886e8"  stroke="#7a2a7a" stroke-width="0.4"/>
<polygon points="535.01,97.51 538.86,98.09 532.01,102.0" fill="#e886e8"  stroke="#7a2a7a" stroke-width="0.4"/>
<polygon points="537.9,97.95 542.12,98.59 534.9,106.09" fill="#e886e8"  stroke="#7a2a7a" stroke-width="0.4"/>
<polygon points="541.06,98.43 545.37,99.08 538.06,104.77" fill="#e886e8"  stroke="#7a2a7a" stroke-width="0.4"/>
<polygon points="544.29,98.92 548.22,99.52 541.29,103.63" fill="#e886e8"  stroke="#7a2a7a" stroke-width="0.4"/>
<polygon points="547.24,99.37 551.4,100.0 544.24,105.73" fill="#e886e8"  stroke="#7a2a7a" stroke-width="0.4"/>
<polygon points="484,93.5 490.3,107.7 494,95.5" fill="#a274f2"  stroke="#5a3a9a" stroke-width="0.3"/>
<polygon points="487,93.5 490.3,107.7 489.5,94" fill="#7c5ce6" />
<polygon points="497,96 499,100.5 502,96.8" fill="#b070f0" />
<polygon points="503,96.5 515,79.4 523,95" fill="url(#pk3)"  stroke="#7a2a5a" stroke-width="0.3"/>
<polygon points="511,96 521,80.5 529,96.2" fill="#ff5a8c"  stroke="#7a2a5a" stroke-width="0.3"/>
<polygon points="519,96.5 528,82.5 536,97.5" fill="#ff3c78"  stroke="#7a2a5a" stroke-width="0.3"/>
<polygon points="508,90 515,79.4 519,81 512,88" fill="#ff8a20" />
<polygon points="496,95 503,85 507,95.5" fill="#f060c8"  stroke="#7a2a5a" stroke-width="0.3"/>
<polygon points="527,97.5 534,86 540,98.5" fill="#f47ad0"  stroke="#7a2a5a" stroke-width="0.3"/>
<polygon points="566,60 570,57 574,48 577,38 580.5,27 583,19 584.3,16.4 585.6,20 587,28 589.3,36 593,41.5 600.8,44.3 602,46.5 594,50 586,56 578,63 572.2,68.4" fill="url(#pk1)"  stroke="#6a2a6a" stroke-width="0.3"/>
<polygon points="564,59 570,57 574,53 578,61 572.2,68.4" fill="#8a3ae0"  opacity="0.9"/>
<line x1="575.5" y1="40.28" x2="572.5" y2="66" stroke="#6a2050" stroke-width="0.3" />
<line x1="578" y1="33.78" x2="575" y2="62.78" stroke="#6a2050" stroke-width="0.3" />
<line x1="580.5" y1="27.28" x2="577.5" y2="56.28" stroke="#6a2050" stroke-width="0.3" />
<line x1="583" y1="20.78" x2="580" y2="49.78" stroke="#6a2050" stroke-width="0.3" />
<line x1="586" y1="21.14" x2="583" y2="50.14" stroke="#6a2050" stroke-width="0.3" />
<line x1="589" y1="27.74" x2="586" y2="56.74" stroke="#6a2050" stroke-width="0.3" />
<line x1="592" y1="34.34" x2="589" y2="63.34" stroke="#6a2050" stroke-width="0.3" />
<line x1="595" y1="40.94" x2="592" y2="66" stroke="#6a2050" stroke-width="0.3" />
<text x="461" y="38.7" font-size="11" fill="#f6a800">1.f<tspan font-size="7.6" dy="3.2">rot,Pinion</tspan></text>
<line x1="501" y1="31.4" x2="525.5" y2="35.9" stroke="#f6a800" stroke-width="0.9" marker-end="url(#aho)"/>
<text x="524" y="115" font-size="11" fill="#f6a800">1.f<tspan font-size="7.6" dy="3">rot,Gear</tspan></text>
<line x1="572" y1="106" x2="550.5" y2="102.4" stroke="#f6a800" stroke-width="0.9" marker-end="url(#aho)"/>
<line x1="440.97" y1="217.53" x2="440.97" y2="150" stroke="#e4e4e4" stroke-width="0.6" />
<line x1="457.73" y1="196.67" x2="457.73" y2="150" stroke="#e4e4e4" stroke-width="0.6" />
<line x1="474.5" y1="175.8" x2="474.5" y2="150" stroke="#e4e4e4" stroke-width="0.6" />
<line x1="474.5" y1="175.8" x2="474.5" y2="130.8" stroke="#e4e4e4" stroke-width="0.6" />
<line x1="519.23" y1="183.2" x2="519.23" y2="138.2" stroke="#e4e4e4" stroke-width="0.6" />
<line x1="563.97" y1="190.6" x2="563.97" y2="145.6" stroke="#e4e4e4" stroke-width="0.6" />
<line x1="608.7" y1="198.0" x2="608.7" y2="153.0" stroke="#e4e4e4" stroke-width="0.6" />
<line x1="424.2" y1="207.2" x2="474.5" y2="144.6" stroke="#e4e4e4" stroke-width="0.6" />
<line x1="424.2" y1="174.9" x2="474.5" y2="112.3" stroke="#e4e4e4" stroke-width="0.6" />
<line x1="474.5" y1="144.6" x2="608.7" y2="166.8" stroke="#e4e4e4" stroke-width="0.6" />
<line x1="440.97" y1="217.53" x2="575.17" y2="239.73" stroke="#e4e4e4" stroke-width="0.6" />
<line x1="457.73" y1="196.67" x2="591.93" y2="218.87" stroke="#e4e4e4" stroke-width="0.6" />
<line x1="474.5" y1="175.8" x2="608.7" y2="198.0" stroke="#e4e4e4" stroke-width="0.6" />
<line x1="424.2" y1="238.4" x2="474.5" y2="175.8" stroke="#e4e4e4" stroke-width="0.6" />
<line x1="451.04" y1="242.84" x2="501.34" y2="180.24" stroke="#e4e4e4" stroke-width="0.6" />
<line x1="477.88" y1="247.28" x2="528.18" y2="184.68" stroke="#e4e4e4" stroke-width="0.6" />
<line x1="504.72" y1="251.72" x2="555.02" y2="189.12" stroke="#e4e4e4" stroke-width="0.6" />
<line x1="531.56" y1="256.16" x2="581.86" y2="193.56" stroke="#e4e4e4" stroke-width="0.6" />
<line x1="424.2" y1="173.8" x2="424.2" y2="238.4" stroke="#8a8a8a" stroke-width="0.8" />
<line x1="424.2" y1="238.4" x2="558.4" y2="260.6" stroke="#8a8a8a" stroke-width="0.8" />
<line x1="558.4" y1="260.6" x2="608.7" y2="198" stroke="#8a8a8a" stroke-width="0.8" />
<line x1="421.7" y1="174.9" x2="424.2" y2="174.9" stroke="#8a8a8a" stroke-width="0.8" />
<line x1="421.7" y1="191" x2="424.2" y2="191" stroke="#8a8a8a" stroke-width="0.8" />
<line x1="421.7" y1="207.2" x2="424.2" y2="207.2" stroke="#8a8a8a" stroke-width="0.8" />
<line x1="421.7" y1="222.5" x2="424.2" y2="222.5" stroke="#8a8a8a" stroke-width="0.8" />
<line x1="421.7" y1="237.8" x2="424.2" y2="237.8" stroke="#8a8a8a" stroke-width="0.8" />
<text x="418.8" y="178.3" font-size="10.4" fill="#000" text-anchor="end" font-weight="normal" font-style="normal" >10</text>
<text x="420" y="210.8" font-size="10.4" fill="#000" text-anchor="end" font-weight="normal" font-style="normal" >0</text>
<text x="419.4" y="241.4" font-size="10.4" fill="#000" text-anchor="end" font-weight="normal" font-style="normal" >-10</text>
<text x="416.2" y="254" font-size="10.4" fill="#000" text-anchor="middle" font-weight="normal" font-style="normal" >0.5</text>
<text x="442.8" y="258.4" font-size="10.4" fill="#000" text-anchor="middle" font-weight="normal" font-style="normal" >0.4</text>
<text x="469.4" y="262.2" font-size="10.4" fill="#000" text-anchor="middle" font-weight="normal" font-style="normal" >0.3</text>
<text x="496" y="265.8" font-size="10.4" fill="#000" text-anchor="middle" font-weight="normal" font-style="normal" >0.2</text>
<text x="524" y="269.4" font-size="10.4" fill="#000" text-anchor="middle" font-weight="normal" font-style="normal" >0.1</text>
<text x="549" y="273.7" font-size="10.4" fill="#000" text-anchor="middle" font-weight="normal" font-style="normal" >0</text>
<text x="570.3" y="268.2" font-size="10.4" fill="#000" text-anchor="middle" font-weight="normal" font-style="normal" >80</text>
<text x="590.4" y="247.5" font-size="10.4" fill="#000" text-anchor="middle" font-weight="normal" font-style="normal" >85</text>
<text x="602.2" y="229.8" font-size="10.4" fill="#000" text-anchor="middle" font-weight="normal" font-style="normal" >90</text>
<text x="618.1" y="210.3" font-size="10.4" fill="#000" text-anchor="middle" font-weight="normal" font-style="normal" >95</text>
<text x="589.5" y="262.7" font-size="10.2" fill="#000" text-anchor="start" font-weight="normal" font-style="italic" >Order</text>
<text x="589.5" y="274" font-size="10.2" fill="#000" text-anchor="start" font-weight="normal" font-style="italic" >of Gear / -</text>
<text x="447.3" y="275.3" font-size="10.3" fill="#000" text-anchor="start" font-weight="normal" font-style="italic" >TE (ptp) / µm</text>
<line x1="424.2" y1="238.4" x2="422.6" y2="240.4" stroke="#8a8a8a" stroke-width="0.7" />
<line x1="451.04" y1="242.84" x2="449.44" y2="244.84" stroke="#8a8a8a" stroke-width="0.7" />
<line x1="477.88" y1="247.28" x2="476.28" y2="249.28" stroke="#8a8a8a" stroke-width="0.7" />
<line x1="504.72" y1="251.72" x2="503.12" y2="253.72" stroke="#8a8a8a" stroke-width="0.7" />
<line x1="531.56" y1="256.16" x2="529.96" y2="258.16" stroke="#8a8a8a" stroke-width="0.7" />
<line x1="558.4" y1="260.6" x2="556.8" y2="262.6" stroke="#8a8a8a" stroke-width="0.7" />
<line x1="558.16" y1="260.9" x2="560.56" y2="261.3" stroke="#8a8a8a" stroke-width="0.7" />
<line x1="574.79" y1="240.2" x2="577.19" y2="240.6" stroke="#8a8a8a" stroke-width="0.7" />
<line x1="589.01" y1="222.5" x2="591.41" y2="222.9" stroke="#8a8a8a" stroke-width="0.7" />
<line x1="604.68" y1="203.0" x2="607.08" y2="203.4" stroke="#8a8a8a" stroke-width="0.7" />
<polygon points="425.4,205.5 555.5,228.2 555.5,230.5 425.4,207.8" fill="#c060c0" />
<polygon points="472.4,148.4 605.5,166.4 555.5,228.2 425.4,205.5" fill="url(#hatch)" />
<line x1="460.18" y1="163.25" x2="592.5" y2="182.47" stroke="#6f2a6f" stroke-width="0.7" />
<line x1="436.68" y1="191.8" x2="567.5" y2="213.37" stroke="#6f2a6f" stroke-width="0.7" />
<line x1="472.4" y1="148.4" x2="605.5" y2="166.4" stroke="#6f2a6f" stroke-width="0.6" />
<polygon points="483.47249999999997,166.39600000000002 484.67249999999996,164.29600000000002 461.17249999999996,187.946 459.97249999999997,194.946" fill="#d87ad8"  stroke="#6a2a6a" stroke-width="0.35"/>
<polygon points="485.60209999999995,166.684 486.80209999999994,164.584 463.30209999999994,188.23399999999998 462.10209999999995,195.23399999999998" fill="#ea92ea"  stroke="#6a2a6a" stroke-width="0.35"/>
<polygon points="487.73169999999993,166.972 488.9316999999999,165.98340068220023 465.4316999999999,192.22666894066734 464.23169999999993,195.522" fill="#ea92ea"  stroke="#6a2a6a" stroke-width="0.35"/>
<polygon points="489.86129999999997,167.26000000000002 491.06129999999996,166.47898099129063 467.5613,193.206603304302 466.3613,195.81" fill="#d87ad8"  stroke="#6a2a6a" stroke-width="0.35"/>
<polygon points="491.99089999999995,167.548 493.19089999999994,166.16687863235217 469.6909,191.49426210784057 468.4909,196.09799999999998" fill="#ea92ea"  stroke="#6a2a6a" stroke-width="0.35"/>
<polygon points="494.12049999999994,167.836 495.3204999999999,167.14907645599897 471.8205,194.0962548533298 470.6205,196.386" fill="#ea92ea"  stroke="#6a2a6a" stroke-width="0.35"/>
<polygon points="496.2501,168.12400000000002 497.45009999999996,166.880941594832 473.95009999999996,192.53047198277324 472.7501,196.674" fill="#d87ad8"  stroke="#6a2a6a" stroke-width="0.35"/>
<polygon points="498.37969999999996,168.412 499.57969999999995,167.37317329970492 476.07969999999995,193.49924433234963 474.87969999999996,196.962" fill="#ea92ea"  stroke="#6a2a6a" stroke-width="0.35"/>
<polygon points="500.50929999999994,168.70000000000002 501.7092999999999,168.03040129027036 478.2092999999999,195.01800430090117 477.00929999999994,197.25" fill="#ea92ea"  stroke="#6a2a6a" stroke-width="0.35"/>
<polygon points="502.6388999999999,168.988 503.8388999999999,167.7790771201727 480.3388999999999,193.5082570672423 479.1388999999999,197.53799999999998" fill="#d87ad8"  stroke="#6a2a6a" stroke-width="0.35"/>
<polygon points="504.7684999999999,169.276 505.9684999999999,168.63100520986964 482.4684999999999,195.67601736623206 481.2684999999999,197.826" fill="#ea92ea"  stroke="#6a2a6a" stroke-width="0.35"/>
<polygon points="506.8981,169.56400000000002 508.0981,168.44362517960516 484.5981,194.37941726535047 483.3981,198.114" fill="#ea92ea"  stroke="#6a2a6a" stroke-width="0.35"/>
<polygon points="509.0277,169.852 510.22769999999997,169.16817349171046 486.72769999999997,196.12257830570152 485.5277,198.402" fill="#d87ad8"  stroke="#6a2a6a" stroke-width="0.35"/>
<polygon points="511.15729999999996,170.14000000000001 512.3573,169.43114438398737 488.85729999999995,196.32714794662454 487.65729999999996,198.69" fill="#ea92ea"  stroke="#6a2a6a" stroke-width="0.35"/>
<polygon points="513.2869,170.428 514.4869,169.31857697302897 490.98689999999993,195.27992324342992 489.78689999999995,198.97799999999998" fill="#ea92ea"  stroke="#6a2a6a" stroke-width="0.35"/>
<polygon points="515.4164999999999,170.716 516.6165,169.12377745039356 493.1164999999999,193.95859150131184 491.9164999999999,199.266" fill="#d87ad8"  stroke="#6a2a6a" stroke-width="0.35"/>
<polygon points="517.5460999999999,171.00400000000002 518.7461,170.25543764662044 495.2460999999999,197.05879215540142 494.0460999999999,199.554" fill="#ea92ea"  stroke="#6a2a6a" stroke-width="0.35"/>
<polygon points="519.6757,171.292 520.8757,170.42411324247158 497.3757,196.94904414157193 496.1757,199.84199999999998" fill="#ea92ea"  stroke="#6a2a6a" stroke-width="0.35"/>
<polygon points="521.8053,171.58 523.0053,170.2270801331133 499.5053,195.62026711037763 498.3053,200.13" fill="#d87ad8"  stroke="#6a2a6a" stroke-width="0.35"/>
<polygon points="523.9349,171.868 525.1349,170.1307492690516 501.63489999999996,194.62716423017196 500.43489999999997,200.41799999999998" fill="#ea92ea"  stroke="#6a2a6a" stroke-width="0.35"/>
<polygon points="526.0645,172.156 527.2645,170.86347646165902 503.76449999999994,196.39758820552998 502.56449999999995,200.706" fill="#ea92ea"  stroke="#6a2a6a" stroke-width="0.35"/>
<polygon points="528.1940999999999,172.44400000000002 529.3941,171.3679834304191 505.8940999999999,197.40727810139688 504.69409999999993,200.994" fill="#d87ad8"  stroke="#6a2a6a" stroke-width="0.35"/>
<polygon points="530.3236999999999,172.732 531.5237,170.9604938732885 508.0236999999999,195.3769795776283 506.8236999999999,201.28199999999998" fill="#ea92ea"  stroke="#6a2a6a" stroke-width="0.35"/>
<polygon points="532.4532999999999,173.02 533.6533,172.3641007832587 510.1532999999999,199.38366927752898 508.9532999999999,201.57" fill="#ea92ea"  stroke="#6a2a6a" stroke-width="0.35"/>
<polygon points="534.5829,173.30800000000002 535.7829,171.6778378491416 512.2829,196.42412616380528 511.0829,201.858" fill="#d87ad8"  stroke="#6a2a6a" stroke-width="0.35"/>
<polygon points="536.7125,173.596 537.9125,172.648468856402 514.4125,198.98756285467329 513.2125,202.146" fill="#ea92ea"  stroke="#6a2a6a" stroke-width="0.35"/>
<polygon points="538.8421,173.88400000000001 540.0421,173.1108938999711 516.5421,199.85697966657025 515.3421,202.434" fill="#ea92ea"  stroke="#6a2a6a" stroke-width="0.35"/>
<polygon points="540.9716999999999,174.172 542.1717,173.43064931430595 518.6717,200.25083104768652 517.4716999999999,202.72199999999998" fill="#d87ad8"  stroke="#6a2a6a" stroke-width="0.35"/>
<polygon points="543.1012999999999,174.46 544.3013,173.4898218110777 520.8013,199.77607270359226 519.6012999999999,203.01" fill="#ea92ea"  stroke="#6a2a6a" stroke-width="0.35"/>
<polygon points="545.2309,174.74800000000002 546.4309000000001,173.16864836905597 522.9309000000001,198.03349456351987 521.7309,203.298" fill="#ea92ea"  stroke="#6a2a6a" stroke-width="0.35"/>
<polygon points="500.726,196.65 515.45,185.95 529.467,181.5 537.8439999999999,183.90200000000002 532.0459999999999,194.54 521.394,203.887 504.95199999999994,202.298" fill="url(#blu)"  opacity="0.85"/>
<line x1="519.21" y1="181.38" x2="501.9" y2="200.62" stroke="#4a2a8a" stroke-width="0.35" />
<line x1="523.2" y1="181.92" x2="505.89" y2="201.16" stroke="#4a2a8a" stroke-width="0.35" />
<line x1="527.2" y1="182.46" x2="509.88" y2="201.7" stroke="#4a2a8a" stroke-width="0.35" />
<line x1="531.19" y1="183.0" x2="513.88" y2="202.24" stroke="#4a2a8a" stroke-width="0.35" />
<line x1="535.18" y1="183.54" x2="517.87" y2="202.78" stroke="#4a2a8a" stroke-width="0.35" />
<polygon points="533.8,201.9 546.5,178.3 549,177.3 555,179 561.7,181.6 568,185.4 570,194 566,205 545,207" fill="url(#pk2)"  stroke="#6a2a5a" stroke-width="0.3"/>
<polygon points="561,223.5 569.3,193 575,195 578.2,198 575,208 568,222.5 563,225" fill="url(#pk3)"  stroke="#6a2a5a" stroke-width="0.3"/>
<polygon points="586,193 592.2,168.9 598,168 603.6,167.6 605.5,166.4 603,176 595,190 589,196" fill="url(#pk2)"  stroke="#6a2a5a" stroke-width="0.3"/>
<line x1="548" y1="178.0" x2="544" y2="205" stroke="#6a2a50" stroke-width="0.3" />
<line x1="551" y1="179.05" x2="547" y2="205" stroke="#6a2a50" stroke-width="0.3" />
<line x1="554" y1="180.1" x2="550" y2="205" stroke="#6a2a50" stroke-width="0.3" />
<line x1="557" y1="181.15" x2="553" y2="205" stroke="#6a2a50" stroke-width="0.3" />
<line x1="560" y1="182.2" x2="556" y2="205" stroke="#6a2a50" stroke-width="0.3" />
<line x1="563" y1="183.25" x2="559" y2="205" stroke="#6a2a50" stroke-width="0.3" />
<line x1="566" y1="184.3" x2="562" y2="205" stroke="#6a2a50" stroke-width="0.3" />
<line x1="571" y1="195.1" x2="565" y2="221" stroke="#6a2a50" stroke-width="0.3" />
<line x1="573" y1="196.2" x2="567" y2="221" stroke="#6a2a50" stroke-width="0.3" />
<line x1="575" y1="197.3" x2="569" y2="221" stroke="#6a2a50" stroke-width="0.3" />
<line x1="577" y1="198.4" x2="571" y2="221" stroke="#6a2a50" stroke-width="0.3" />
<text x="445" y="171.2" font-size="11" fill="#f6a800">1.f<tspan font-size="7.6" dy="3">z</tspan></text>
<line x1="429" y1="173" x2="471.4" y2="181" stroke="#f6a800" stroke-width="0.9" marker-end="url(#aho)"/>
<text transform="translate(362.7,73.3) rotate(-90)" font-size="10" font-style="italic" text-anchor="middle">Δ Probability of</text>
<text transform="translate(373.2,73.3) rotate(-90)" font-size="10" font-style="italic" text-anchor="middle">occurence / %</text>
<text transform="translate(362.7,198.3) rotate(-90)" font-size="10" font-style="italic" text-anchor="middle">Δ Probability of</text>
<text transform="translate(373.2,198.3) rotate(-90)" font-size="10" font-style="italic" text-anchor="middle">occurence / %</text>
<path d="M390.7,56.3 L397.0,63.3 L393.7,63.3 L393.7,79.3 L387.7,79.3 L387.7,63.3 L384.4,63.3 Z" fill="#0b539d"/>
<path d="M390.7,109.9 L397.0,102.9 L393.7,102.9 L393.7,86.3 L387.7,86.3 L387.7,102.9 L384.4,102.9 Z" fill="#0b539d"/>
<line x1="380.2" y1="82.8" x2="412.6" y2="82.8" stroke="#0b539d" stroke-width="1" />
<path d="M390.7,181.6 L397.0,188.6 L393.7,188.6 L393.7,203.7 L387.7,203.7 L387.7,188.6 L384.4,188.6 Z" fill="#0b539d"/>
<path d="M390.7,235.2 L397.0,228.2 L393.7,228.2 L393.7,210.7 L387.7,210.7 L387.7,228.2 L384.4,228.2 Z" fill="#0b539d"/>
<line x1="380.2" y1="207.2" x2="412.6" y2="207.2" stroke="#0b539d" stroke-width="1" />
<g transform="translate(158.3,241.2) scale(0.9166666666666666,0.875)"><path d="M3.6,5.6 L6.1,1.2 Q6.7,0.1 7.7,0.6 Q8.6,1.2 8.1,2.9 L7.4,5 H10.4 Q11.8,5.1 11.4,6.5 L10.5,10.9 Q10.2,11.8 9.1,11.8 H3.6 Z" fill="#fff" stroke="#0b539d" stroke-width="1.42"/><rect x="0.4" y="5.2" width="2.8" height="6.6" fill="#0b539d"/></g>
<g transform="translate(183,252.8) scale(0.875,-0.9166666666666666)"><path d="M3.6,5.6 L6.1,1.2 Q6.7,0.1 7.7,0.6 Q8.6,1.2 8.1,2.9 L7.4,5 H10.4 Q11.8,5.1 11.4,6.5 L10.5,10.9 Q10.2,11.8 9.1,11.8 H3.6 Z" fill="#fff" stroke="#0b539d" stroke-width="1.49"/><rect x="0.4" y="5.2" width="2.8" height="6.6" fill="#0b539d"/></g>
<g transform="translate(400.8,75.2) scale(0.9333333333333332,-0.9333333333333332)"><path d="M3.6,5.6 L6.1,1.2 Q6.7,0.1 7.7,0.6 Q8.6,1.2 8.1,2.9 L7.4,5 H10.4 Q11.8,5.1 11.4,6.5 L10.5,10.9 Q10.2,11.8 9.1,11.8 H3.6 Z" fill="#fff" stroke="#0b539d" stroke-width="1.39"/><rect x="0.4" y="5.2" width="2.8" height="6.6" fill="#0b539d"/></g>
<g transform="translate(400.8,90.2) scale(0.9333333333333332,0.9333333333333332)"><path d="M3.6,5.6 L6.1,1.2 Q6.7,0.1 7.7,0.6 Q8.6,1.2 8.1,2.9 L7.4,5 H10.4 Q11.8,5.1 11.4,6.5 L10.5,10.9 Q10.2,11.8 9.1,11.8 H3.6 Z" fill="#fff" stroke="#0b539d" stroke-width="1.39"/><rect x="0.4" y="5.2" width="2.8" height="6.6" fill="#0b539d"/></g>
<g transform="translate(400.8,199.7) scale(0.9333333333333332,-0.9333333333333332)"><path d="M3.6,5.6 L6.1,1.2 Q6.7,0.1 7.7,0.6 Q8.6,1.2 8.1,2.9 L7.4,5 H10.4 Q11.8,5.1 11.4,6.5 L10.5,10.9 Q10.2,11.8 9.1,11.8 H3.6 Z" fill="#fff" stroke="#0b539d" stroke-width="1.39"/><rect x="0.4" y="5.2" width="2.8" height="6.6" fill="#0b539d"/></g>
<g transform="translate(400.8,217.2) scale(0.9333333333333332,0.9333333333333332)"><path d="M3.6,5.6 L6.1,1.2 Q6.7,0.1 7.7,0.6 Q8.6,1.2 8.1,2.9 L7.4,5 H10.4 Q11.8,5.1 11.4,6.5 L10.5,10.9 Q10.2,11.8 9.1,11.8 H3.6 Z" fill="#fff" stroke="#0b539d" stroke-width="1.39"/><rect x="0.4" y="5.2" width="2.8" height="6.6" fill="#0b539d"/></g>
<g transform="translate(641,80.6) scale(0.8916666666666666,-0.8333333333333334)"><path d="M3.6,5.6 L6.1,1.2 Q6.7,0.1 7.7,0.6 Q8.6,1.2 8.1,2.9 L7.4,5 H10.4 Q11.8,5.1 11.4,6.5 L10.5,10.9 Q10.2,11.8 9.1,11.8 H3.6 Z" fill="#fff" stroke="#8c8c8c" stroke-width="1.46"/><rect x="0.4" y="5.2" width="2.8" height="6.6" fill="#8c8c8c"/></g>
<g transform="translate(641.5,197) scale(0.875,0.975)"><path d="M3.6,5.6 L6.1,1.2 Q6.7,0.1 7.7,0.6 Q8.6,1.2 8.1,2.9 L7.4,5 H10.4 Q11.8,5.1 11.4,6.5 L10.5,10.9 Q10.2,11.8 9.1,11.8 H3.6 Z" fill="#fff" stroke="#8c8c8c" stroke-width="1.49"/><rect x="0.4" y="5.2" width="2.8" height="6.6" fill="#8c8c8c"/></g>
<path d="M646.9,84.4 L653.3,90.5 L649.9,90.5 L649.9,108 L643.9,108 L643.9,90.5 L640.5,90.5 Z" fill="#8c8c8c"/>
<path d="M647.3,191.3 L653.6,184 L650.3,184 L650.3,167.5 L644.3,167.5 L644.3,184 L641,184 Z" fill="#8c8c8c"/>
<rect x="655.3" y="48.4" width="11.2" height="182.6" fill="url(#cbar)"  stroke="#555" stroke-width="0.4"/>
<line x1="663.8" y1="66.7" x2="666.5" y2="66.7" stroke="#666" stroke-width="0.4" />
<line x1="663.8" y1="84.9" x2="666.5" y2="84.9" stroke="#666" stroke-width="0.4" />
<line x1="663.8" y1="103.2" x2="666.5" y2="103.2" stroke="#666" stroke-width="0.4" />
<line x1="663.8" y1="121.4" x2="666.5" y2="121.4" stroke="#666" stroke-width="0.4" />
<line x1="663.8" y1="139.7" x2="666.5" y2="139.7" stroke="#666" stroke-width="0.4" />
<line x1="663.8" y1="158.0" x2="666.5" y2="158.0" stroke="#666" stroke-width="0.4" />
<line x1="663.8" y1="176.2" x2="666.5" y2="176.2" stroke="#666" stroke-width="0.4" />
<line x1="663.8" y1="194.5" x2="666.5" y2="194.5" stroke="#666" stroke-width="0.4" />
<line x1="663.8" y1="212.7" x2="666.5" y2="212.7" stroke="#666" stroke-width="0.4" />
<text x="661.3" y="44.2" font-size="10.2" fill="#000" text-anchor="middle" font-weight="normal" font-style="normal" >Δ &gt; 0</text>
<text x="661.3" y="243.2" font-size="10.2" fill="#000" text-anchor="middle" font-weight="normal" font-style="normal" >Δ &lt; 0</text>
<text x="661.2" y="144.1" font-size="10.2" text-anchor="middle" stroke="#fff" stroke-width="2.2" stroke-linejoin="round" paint-order="stroke">Δ = 0</text>
</svg>
</body></html>
